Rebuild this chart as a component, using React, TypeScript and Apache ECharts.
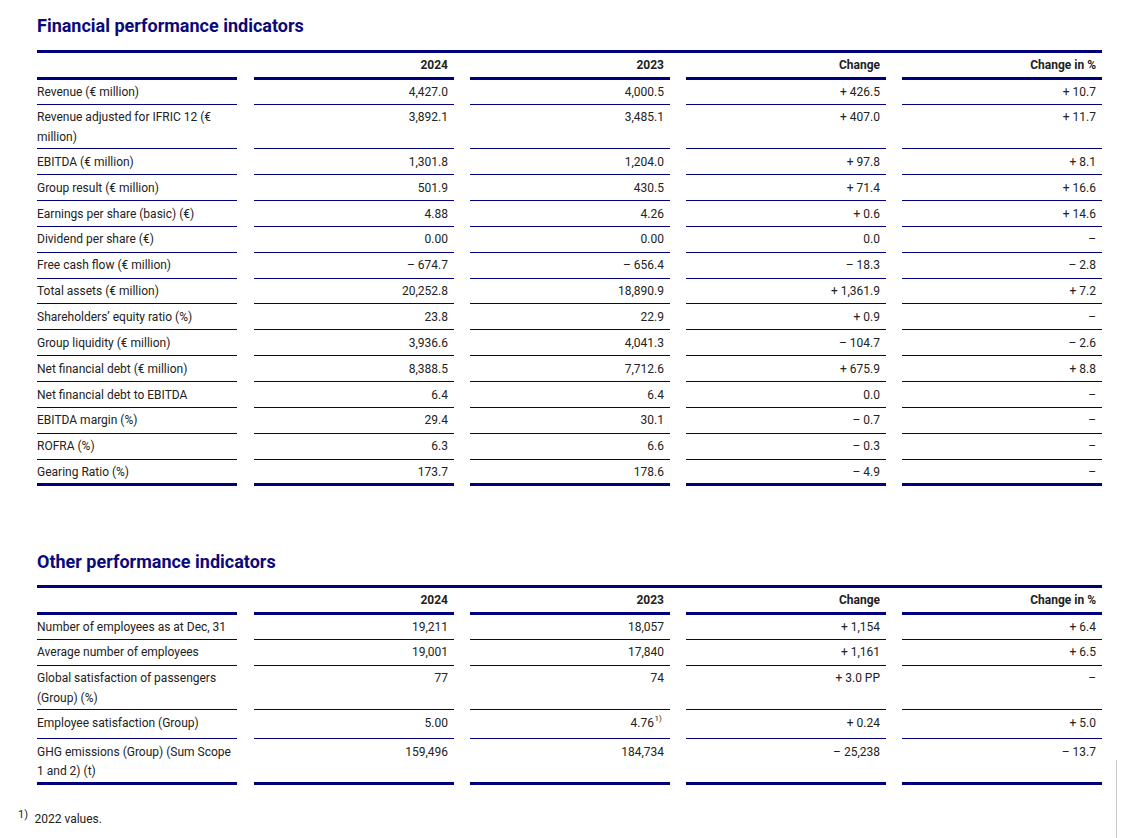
import React, { useEffect, useRef } from 'react';
import * as echarts from 'echarts';

const headers = ['', '2024', '2023', 'Change', 'Change in %'];

const finTitle = 'Financial performance indicators';
const finLabels = [
  'Revenue (€ million)',
  'Revenue adjusted for IFRIC 12 (€ million)',
  'EBITDA (€ million)',
  'Group result (€ million)',
  'Earnings per share (basic) (€)',
  'Dividend per share (€)',
  'Free cash flow (€ million)',
  'Total assets (€ million)',
  'Shareholders’ equity ratio (%)',
  'Group liquidity (€ million)',
  'Net financial debt (€ million)',
  'Net financial debt to EBITDA',
  'EBITDA margin (%)',
  'ROFRA (%)',
  'Gearing Ratio (%)',
];
const fin2024 = ['4,427.0', '3,892.1', '1,301.8', '501.9', '4.88', '0.00', '– 674.7', '20,252.8', '23.8', '3,936.6', '8,388.5', '6.4', '29.4', '6.3', '173.7'];
const fin2023 = ['4,000.5', '3,485.1', '1,204.0', '430.5', '4.26', '0.00', '– 656.4', '18,890.9', '22.9', '4,041.3', '7,712.6', '6.4', '30.1', '6.6', '178.6'];
const finChange = ['+ 426.5', '+ 407.0', '+ 97.8', '+ 71.4', '+ 0.6', '0.0', '– 18.3', '+ 1,361.9', '+ 0.9', '– 104.7', '+ 675.9', '0.0', '– 0.7', '– 0.3', '– 4.9'];
const finChangePct = ['+ 10.7', '+ 11.7', '+ 8.1', '+ 16.6', '+ 14.6', '–', '– 2.8', '+ 7.2', '–', '– 2.6', '+ 8.8', '–', '–', '–', '–'];

const otherTitle = 'Other performance indicators';
const otherLabels = [
  'Number of employees as at Dec, 31',
  'Average number of employees',
  'Global satisfaction of passengers (Group) (%)',
  'Employee satisfaction (Group)',
  'GHG emissions (Group) (Sum Scope 1 and 2) (t)',
];
const other2024 = ['19,211', '19,001', '77', '5.00', '159,496'];
const other2023 = ['18,057', '17,840', '74', '4.76', '184,734'];
const other2023Notes = ['', '', '', '1)', ''];
const otherChange = ['+ 1,154', '+ 1,161', '+ 3.0 PP', '+ 0.24', '– 25,238'];
const otherChangePct = ['+ 6.4', '+ 6.5', '–', '+ 5.0', '– 13.7'];

const footnoteMark = '1)';
const footnoteText = '2022 values.';

const NAVY = '#00007c';
const TITLE = '#0a0a7a';
const TEXT = '#222222';
const FONT = 'Roboto, "Noto Sans", Arial, sans-serif';
const COLS: [number, number][] = [[37, 237], [254, 454], [470, 670], [686, 886], [902, 1102]];

function wrapText(text: string, width: number, font: string): string[] {
  const c = document.createElement('canvas').getContext('2d')!;
  c.font = font;
  const words = text.split(' ');
  const lines: string[] = [];
  let cur = '';
  for (const w of words) {
    const t = cur ? cur + ' ' + w : w;
    if (c.measureText(t).width > width && cur) {
      lines.push(cur);
      cur = w;
    } else cur = t;
  }
  if (cur) lines.push(cur);
  return lines;
}

const crisp = (y: number) => Math.round(y) + 0.5;

function hLine(x1: number, x2: number, y: number, w: number): any {
  return {
    type: 'line',
    shape: { x1, y1: crisp(y), x2, y2: crisp(y) },
    style: { stroke: NAVY, lineWidth: w },
    silent: true,
  };
}

function txt(x: number, y: number, text: string, opts: any = {}): any {
  return {
    type: 'text',
    x,
    y,
    style: {
      text,
      fill: opts.fill || TEXT,
      font: `${opts.weight || 'normal'} ${opts.size || 12}px ${FONT}`,
      textAlign: opts.align || 'left',
      textVerticalAlign: 'middle',
    },
    silent: true,
  };
}

function buildTable(
  els: any[],
  title: string,
  titleY: number,
  topY: number,
  labels: string[],
  cols: string[][],
  notes: string[][],
) {
  els.push(txt(37, titleY, title, { size: 18, weight: 'bold', fill: TITLE }));
  els.push(hLine(37, 1102, topY, 3));
  headers.forEach((h, i) => {
    if (h) els.push(txt(COLS[i][1] - 6, topY + 13.5, h, { weight: 'bold', align: 'right' }));
  });
  const headBottom = topY + 27;
  COLS.forEach(([a, b]) => els.push(hLine(a, b, headBottom, 3)));
  let y = headBottom;
  labels.forEach((label, r) => {
    const lines = wrapText(label, 200, `12px ${FONT}`);
    const hasNote = notes.some((n) => n[r]);
    let h = lines.length === 1 ? 25.85 : 44.5;
    if (hasNote) h += 3;
    lines.forEach((ln, k) => els.push(txt(37, y + 13.5 + k * 19.3, ln)));
    cols.forEach((vals, c) => {
      const right = COLS[c + 1][1] - 6;
      const note = notes[c] && notes[c][r];
      if (note) {
        els.push(txt(right - 10, y + 13.5, vals[r], { align: 'right' }));
        els.push(txt(right - 9.5, y + 9, note, { size: 8 }));
      } else {
        els.push(txt(right, y + 13.5, vals[r], { align: 'right' }));
      }
    });
    y += h;
    const last = r === labels.length - 1;
    COLS.forEach(([a, b]) => els.push(hLine(a, b, y, last ? 3 : 1)));
  });
  return y;
}

export default function App() {
  const ref = useRef<HTMLDivElement>(null);
  useEffect(() => {
    document.body.style.margin = '0';
    const chart = echarts.init(ref.current!, null, { renderer: 'svg' });
    const els: any[] = [];
    buildTable(els, finTitle, 25, 51, finLabels, [fin2024, fin2023, finChange, finChangePct], [[], [], [], []]);
    buildTable(els, otherTitle, 561, 586, otherLabels, [other2024, other2023, otherChange, otherChangePct], [[], other2023Notes, [], []]);
    els.push(txt(18, 814, footnoteMark, { size: 11 }));
    els.push(txt(34.5, 819, footnoteText));
    els.push({
      type: 'line',
      shape: { x1: 1116.5, y1: 760, x2: 1116.5, y2: 838 },
      style: { stroke: '#c8c8c8', lineWidth: 1 },
      silent: true,
    });
    chart.setOption({
      animation: false,
      backgroundColor: '#ffffff',
      graphic: { elements: els },
    });
    return () => chart.dispose();
  }, []);
  return <div ref={ref} style={{ width: 1134, height: 838 }} />;
}
